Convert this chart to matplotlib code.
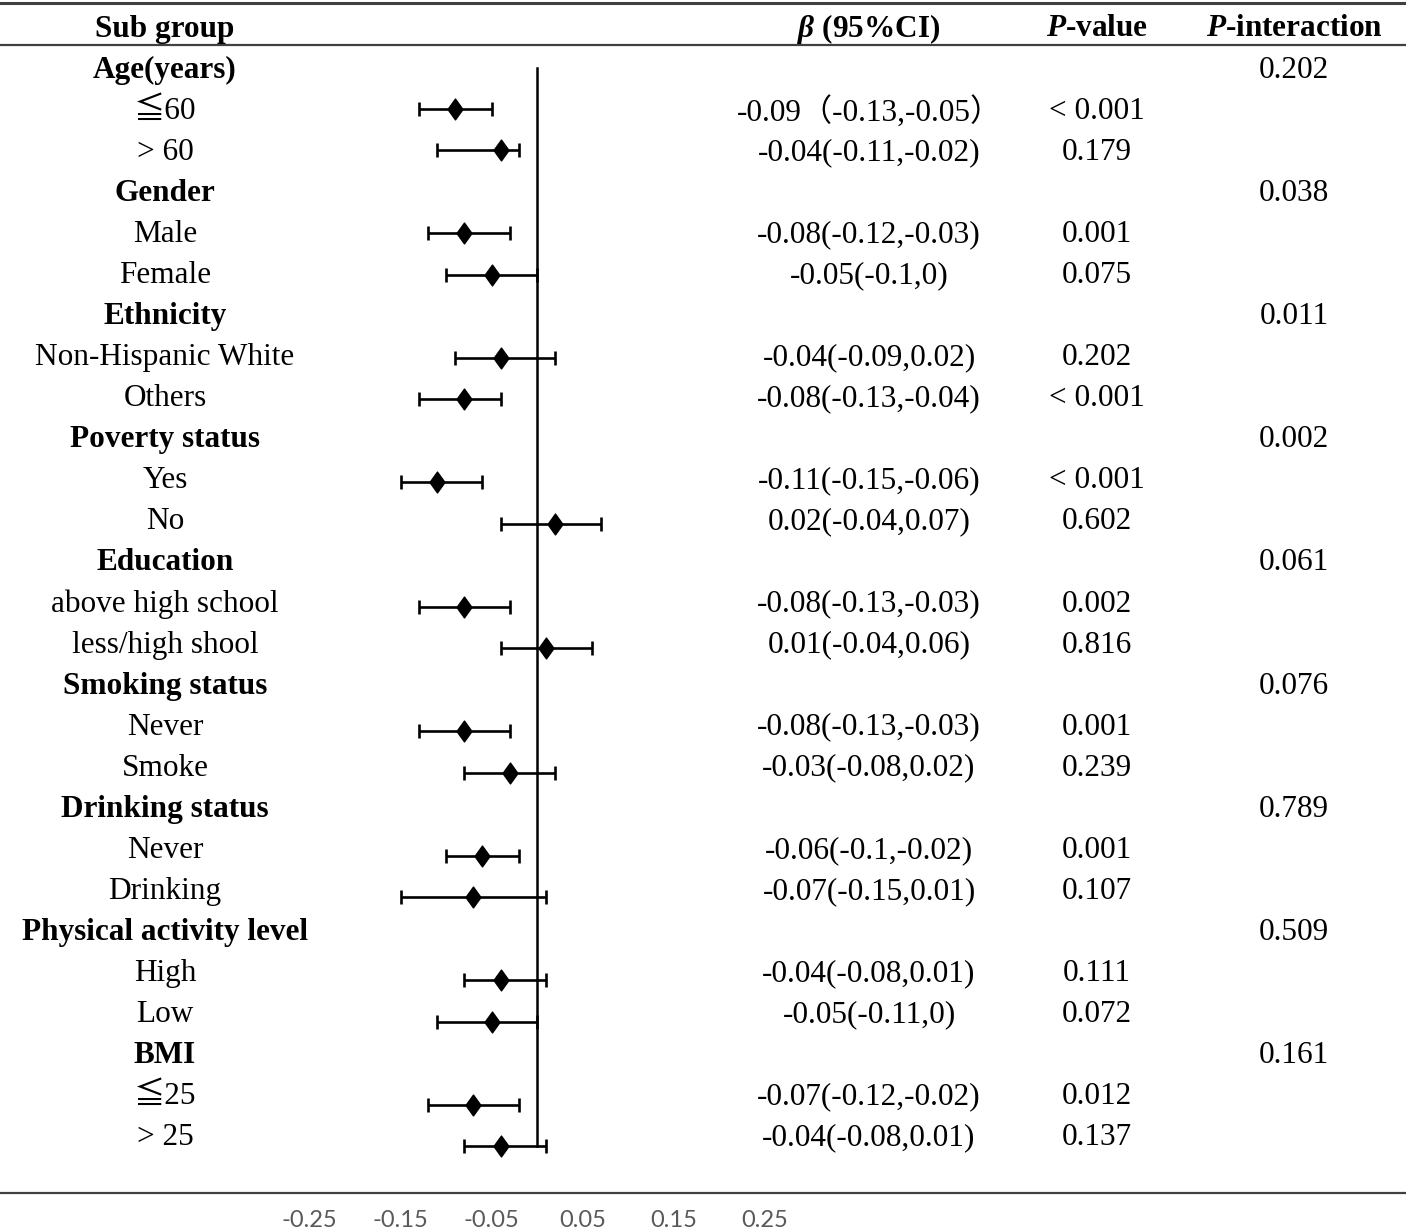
import numpy as np
import matplotlib
matplotlib.use("Agg")
from matplotlib import pyplot as plt
from matplotlib.path import Path

plt.rcParams['mathtext.fontset'] = 'custom'
plt.rcParams['mathtext.rm'] = 'Liberation Serif'
plt.rcParams['mathtext.it'] = 'Liberation Serif:italic'
plt.rcParams['mathtext.bf'] = 'Liberation Serif:bold'
plt.rcParams['mathtext.bfit'] = 'Liberation Serif:italic:bold'

groups = ["Age(years)", "Gender", "Ethnicity", "Poverty status", "Education",
          "Smoking status", "Drinking status", "Physical activity level", "BMI"]
p_interaction = ["0.202", "0.038", "0.011", "0.002", "0.061",
                 "0.076", "0.789", "0.509", "0.161"]

subgroups = ["≦60", "> 60", "Male", "Female", "Non-Hispanic White", "Others",
             "Yes", "No", "above high school", "less/high shool", "Never", "Smoke",
             "Never", "Drinking", "High", "Low", "≦25", "> 25"]
beta = [-0.09, -0.04, -0.08, -0.05, -0.04, -0.08, -0.11, 0.02, -0.08, 0.01,
        -0.08, -0.03, -0.06, -0.07, -0.04, -0.05, -0.07, -0.04]
ci_low = [-0.13, -0.11, -0.12, -0.10, -0.09, -0.13, -0.15, -0.04, -0.13, -0.04,
          -0.13, -0.08, -0.10, -0.15, -0.08, -0.11, -0.12, -0.08]
ci_high = [-0.05, -0.02, -0.03, 0.00, 0.02, -0.04, -0.06, 0.07, -0.03, 0.06,
           -0.03, 0.02, -0.02, 0.01, 0.01, 0.00, -0.02, 0.01]
ci_text = ["-0.09（-0.13,-0.05）", "-0.04(-0.11,-0.02)", "-0.08(-0.12,-0.03)",
           "-0.05(-0.1,0)", "-0.04(-0.09,0.02)", "-0.08(-0.13,-0.04)",
           "-0.11(-0.15,-0.06)", "0.02(-0.04,0.07)", "-0.08(-0.13,-0.03)",
           "0.01(-0.04,0.06)", "-0.08(-0.13,-0.03)", "-0.03(-0.08,0.02)",
           "-0.06(-0.1,-0.02)", "-0.07(-0.15,0.01)", "-0.04(-0.08,0.01)",
           "-0.05(-0.11,0)", "-0.07(-0.12,-0.02)", "-0.04(-0.08,0.01)"]
p_values = ["< 0.001", "0.179", "0.001", "0.075", "0.202", "< 0.001",
            "< 0.001", "0.602", "0.002", "0.816", "0.001", "0.239",
            "0.001", "0.107", "0.111", "0.072", "0.012", "0.137"]
x_ticks = [-0.25, -0.15, -0.05, 0.05, 0.15, 0.25]

serif = ['Liberation Serif', 'Noto Sans CJK SC', 'DejaVu Sans']
fs = 22.5

fig = plt.figure(figsize=(14.06, 12.32), dpi=100)

# text layer in pixel coordinates
tax = fig.add_axes([0, 0, 1, 1])
tax.set_xlim(0, 1406)
tax.set_ylim(1232, 0)
tax.axis('off')

line_col = '#404040'
tax.axhline(3, color=line_col, lw=2.2)
tax.axhline(45, color=line_col, lw=1.6)
tax.axhline(1193, color=line_col, lw=1.6)

x_sub, x_ci, x_p, x_pint = 165, 869, 1097, 1294
hy = 29
tax.text(x_sub, hy, "Sub group", ha='center', va='center', fontsize=fs,
         fontweight='bold', family=serif)
tax.text(x_ci, hy, r"$\mathbfit{\beta}$ (95%CI)", ha='center', va='center',
         fontsize=fs, fontweight='bold', family=serif)
tax.text(x_p, hy, r"$\mathbfit{P}$-value", ha='center', va='center',
         fontsize=fs, fontweight='bold', family=serif)
tax.text(x_pint, hy, r"$\mathbfit{P}$-interaction", ha='center', va='center',
         fontsize=fs, fontweight='bold', family=serif)

y0, dy = 70.5, 41.04
marker_rows = []
row = 0
for g, (name, pint) in enumerate(zip(groups, p_interaction)):
    y = y0 + dy * row
    tax.text(x_sub, y, name, ha='center', va='center', fontsize=fs,
             fontweight='bold', family=serif)
    tax.text(x_pint, y, pint, ha='center', va='center', fontsize=fs, family=serif)
    row += 1
    for k in range(2):
        i = 2 * g + k
        y = y0 + dy * row
        tax.text(x_sub, y, subgroups[i], ha='center', va='center', fontsize=fs, family=serif)
        tax.text(x_ci, y, ci_text[i], ha='center', va='center', fontsize=fs, family=serif)
        tax.text(x_p, y, p_values[i], ha='center', va='center', fontsize=fs, family=serif)
        marker_rows.append(row)
        row += 1

# forest plot
left_px, right_px = 264, 810
top_px, bot_px = 46.76, 1195
ax = fig.add_axes([left_px / 1406, 1 - bot_px / 1232,
                   (right_px - left_px) / 1406, (bot_px - top_px) / 1232])
ax.patch.set_alpha(0)
ax.set_xlim(-0.3, 0.3)
ax.set_ylim(27.18, -0.5)
for s in ax.spines.values():
    s.set_visible(False)
ax.set_yticks([])
ax.set_xticks(x_ticks)
ax.set_xticklabels([f"{t:.2f}" for t in x_ticks])
ax.tick_params(axis='x', length=0, pad=11, labelsize=17, labelcolor='#595959')
for lab in ax.get_xticklabels():
    lab.set_family('Lato')

ax.plot([0, 0], [0, 26], color='black', lw=1.8)

beta = np.array(beta)
ci_low = np.array(ci_low)
ci_high = np.array(ci_high)
diamond = Path([(0, 1), (0.72, 0), (0, -1), (-0.72, 0), (0, 1)],
               [Path.MOVETO, Path.LINETO, Path.LINETO, Path.LINETO, Path.CLOSEPOLY])
ax.errorbar(beta, marker_rows, xerr=[beta - ci_low, ci_high - beta], fmt='none',
            ecolor='black', elinewidth=1.9, capsize=5, capthick=1.9)
ax.plot(beta, marker_rows, linestyle='none', marker=diamond, markersize=15,
        color='black')

fig.savefig("out.png", dpi=100)
